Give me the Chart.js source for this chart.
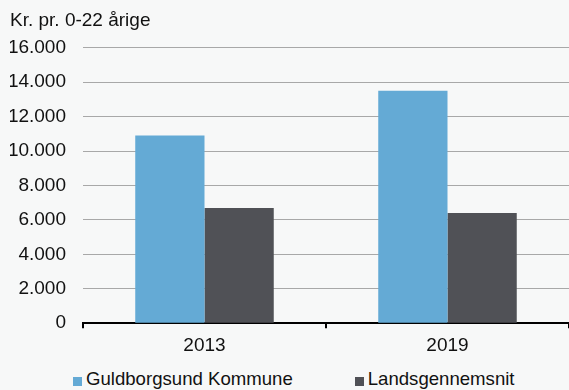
<!DOCTYPE html>
<html>
<head>
<meta charset="utf-8">
<script src="https://cdn.jsdelivr.net/npm/chart.js@4"></script>
<style>
  html, body { margin: 0; padding: 0; background: #f7f8f8; overflow: hidden; }
  body { position: relative; width: 569px; height: 390px; font-family: "Liberation Sans", Arial, Helvetica, sans-serif; }
  #wrap { position: absolute; left: 0; top: 0; width: 569px; height: 366px; }
  #legend { position: absolute; left: 73px; top: 368px; display: flex; gap: 62px; font-size: 18.6px; color: #111111; white-space: nowrap; }
  #legend span.item { display: flex; align-items: center; line-height: 22px; }
  #legend span.box { display: inline-block; width: 9px; height: 9px; margin-right: 4px; margin-top: 5px; }
</style>
</head>
<body>
<div id="wrap"><canvas id="my-chart"></canvas></div>
<div id="legend"></div>
<script>
let years = ['2013', '2019'];
let kommune = [10900, 13500];
let landsgennemsnit = [6700, 6400];
let seriesNames = ['Guldborgsund Kommune', 'Landsgennemsnit'];
let seriesColors = ['#64aad5', '#505156'];
let yTicks = [0, 2000, 4000, 6000, 8000, 10000, 12000, 14000, 16000];

// 16000 -> "16.000"
function danishNumber(v) {
    return String(v).replace(/\B(?=(\d{3})+(?!\d))/g, '.');
}

Chart.defaults.font.family = '"Liberation Sans", Arial, Helvetica, sans-serif';
Chart.defaults.font.size = 19;
Chart.defaults.color = '#111111';

let ctx = document.getElementById('my-chart').getContext('2d');
let spendingChart = new Chart(ctx, {
    type: 'bar',
    data: {
        labels: years,
        datasets: [{
            label: seriesNames[0],
            data: kommune,
            backgroundColor: seriesColors[0],
            categoryPercentage: 0.57,
            barPercentage: 1
        }, {
            label: seriesNames[1],
            data: landsgennemsnit,
            backgroundColor: seriesColors[1],
            categoryPercentage: 0.57,
            barPercentage: 1
        }]
    },
    options: {
        responsive: true,
        maintainAspectRatio: false,
        animation: false,
        layout: {
            padding: { left: 10, right: 0, top: 0, bottom: 3 }
        },
        plugins: {
            title: {
                display: true,
                text: 'Kr. pr. 0-22 årige',
                align: 'start',
                color: '#111111',
                font: { size: 19, weight: 'normal' },
                padding: { top: 9, bottom: 16 }
            },
            legend: { display: false },
            tooltip: { enabled: false }
        },
        scales: {
            x: {
                grid: {
                    offset: true,
                    drawOnChartArea: false,
                    drawTicks: true,
                    tickLength: 5,
                    color: '#000000',
                    lineWidth: 2
                },
                border: { display: true, color: '#000000', width: 2 },
                ticks: { padding: 6, color: '#111111' }
            },
            y: {
                min: 0,
                max: 16000,
                afterBuildTicks: function (axis) {
                    axis.ticks = yTicks.map(function (v) { return { value: v }; });
                },
                afterFit: function (axis) {
                    axis.width = 73;
                },
                grid: {
                    drawTicks: false,
                    color: function (c) { return c.tick.value === 0 ? 'rgba(0,0,0,0)' : '#a8a8a8'; },
                    lineWidth: 1
                },
                border: { display: false },
                ticks: {
                    padding: 17,
                    color: '#111111',
                    callback: function (value) { return danishNumber(value); }
                }
            }
        }
    }
});

// legend below the chart
let legendEl = document.getElementById('legend');
for (let i = 0; i < seriesNames.length; i++) {
    let item = document.createElement('span');
    item.className = 'item';
    let box = document.createElement('span');
    box.className = 'box';
    box.style.background = seriesColors[i];
    item.appendChild(box);
    item.appendChild(document.createTextNode(seriesNames[i]));
    legendEl.appendChild(item);
}
</script>
</body>
</html>
